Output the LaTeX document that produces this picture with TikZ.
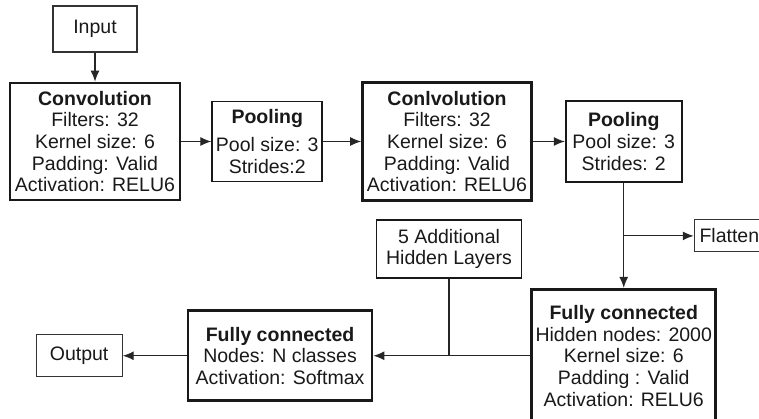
\documentclass[tikz,border=0pt]{standalone}
\usepackage{fontspec}
\setmainfont{Liberation Sans}
\usetikzlibrary{positioning,arrows.meta}

\begin{document}
\begin{tikzpicture}[>={Latex[length=11pt,width=9pt]},line width=1.2pt,color=black!85,
  every node/.style={font=\fontsize{19.5}{21.7}\selectfont,align=center,inner sep=0pt,text=black!90},
  layer node/.style={draw=black!90,line width=2.7pt},
  pool node/.style={draw=black!90,line width=1.8pt},
  io node/.style={draw=black!80,line width=1.2pt}]
        \useasboundingbox (0pt,0pt) rectangle (759pt,-419pt);

        \node[layer node,minimum width=170pt,minimum height=117pt] (c1) at (95pt,-141.5pt)
            {\textbf{Convolution}\\Filters: 32\\Kernel size: 6\\Padding: Valid\\Activation: RELU6};
        \node[io node,minimum width=84pt,minimum height=46pt] (in) [above=29pt of c1] {Input};
        \node[pool node,minimum width=110pt,minimum height=80pt] (p1) [right=30pt of c1]
            {\textbf{Pooling}\\[7pt]Pool size: 3\\Strides:2};
        \node[layer node,minimum width=169pt,minimum height=118pt] (c2) [right=38pt of p1]
            {\textbf{Conlvolution}\\Filters: 32\\Kernel size: 6\\Padding: Valid\\Activation: RELU6};
        \node[pool node,minimum width=116pt,minimum height=81pt] (p2) [right=32pt of c2]
            {\textbf{Pooling}\\Pool size: 3\\Strides: 2};
        \coordinate[below=53pt of p2] (split);
        \node[io node,minimum width=70pt,minimum height=32pt] (fl) [right=70pt of split] {Flatten};
        \node[layer node,minimum width=184pt,minimum height=133pt] (fc1) [below=105pt of p2]
            {\textbf{Fully connected}\\Hidden nodes: 2000\\Kernel size: 6\\Padding : Valid\\Activation: RELU6};
        \node[layer node,minimum width=184pt,minimum height=90pt] (fc2) [left=157pt of fc1]
            {\textbf{Fully connected}\\Nodes: N classes\\Activation: Softmax};
        \node[io node,minimum width=86pt,minimum height=42pt] (out) [left=64pt of fc2] {Output};
        \node[pool node,minimum width=145pt,minimum height=58pt,anchor=south east] (hid)
            [above left=77pt and 8pt of fc1.west] {5 Additional\\Hidden Layers};
        \coordinate (join) at (hid.south |- fc1.west);

        \path[->]
            (in) edge (c1)
            (c1) edge (p1)
            (p1) edge (c2)
            (c2) edge (p2)
            (p2) edge (fc1)
            (split) edge (fl)
            (fc1) edge (fc2)
            (fc2) edge (out)
            ;
        \draw (hid) -- (join);
\end{tikzpicture}
\end{document}
